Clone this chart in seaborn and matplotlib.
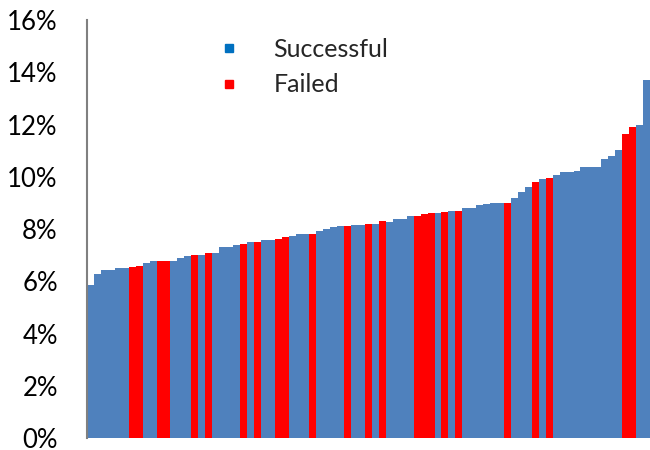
import pandas as pd
import matplotlib
matplotlib.use("Agg")
import matplotlib.pyplot as plt
import seaborn as sns
from matplotlib.lines import Line2D
from matplotlib.ticker import PercentFormatter

# bar heights (%), sorted ascending
rates = [5.87, 6.29, 6.43, 6.43, 6.50, 6.50, 6.53, 6.60, 6.69, 6.79,
         6.78, 6.78, 6.79, 6.90, 6.95, 7.01, 7.00, 7.09, 7.09, 7.30,
         7.30, 7.40, 7.43, 7.49, 7.50, 7.56, 7.56, 7.62, 7.70, 7.72,
         7.80, 7.80, 7.81, 7.92, 8.01, 8.06, 8.10, 8.11, 8.17, 8.17,
         8.19, 8.19, 8.30, 8.28, 8.38, 8.38, 8.48, 8.50, 8.57, 8.60,
         8.60, 8.65, 8.69, 8.69, 8.79, 8.80, 8.91, 8.95, 8.98, 8.99,
         8.99, 9.17, 9.40, 9.60, 9.79, 9.90, 9.96, 10.08, 10.19, 10.19,
         10.21, 10.39, 10.39, 10.39, 10.69, 10.79, 11.01, 11.62, 11.92, 12.00,
         13.70]
# S = successful, F = failed (one code per bar)
codes = ("SSSSSSFFSS" "FFSSSFSFSS" "SSFSFSSFFS" "SSFSSSSFSS"
         "FSFSSSSFFF" "SFSFSSSSSS" "FSSSFSFSSS" "SSSSSSSFFS" "S")
labels = {"S": "Successful", "F": "Failed"}
colors = {"Successful": "#4F81BD", "Failed": "#FF0000"}
legend_colors = {"Successful": "#0070C0", "Failed": "#FF0000"}
yticks = [0, 2, 4, 6, 8, 10, 12, 14, 16]

df = pd.DataFrame({"pos": range(len(rates)), "rate": rates,
                   "outcome": [labels[c] for c in codes]})

sns.set_style("white")
plt.rcParams["font.family"] = ["Lato", "DejaVu Sans"]

fig = plt.figure(figsize=(6.5, 4.5), dpi=100)
ax = fig.add_axes([87 / 650, 12 / 450, 563 / 650, 418 / 450])

sns.barplot(data=df, x="pos", y="rate", hue="outcome", palette=colors,
            saturation=1, dodge=False, width=1.0, linewidth=0,
            legend=False, ax=ax)

ax.set_xlim(-0.5, len(rates) - 0.5)
ax.set_ylim(0, 16)
ax.set_yticks(yticks)
ax.yaxis.set_major_formatter(PercentFormatter(decimals=0))
ax.set_xticks([])
ax.set_xlabel("")
ax.set_ylabel("")
ax.tick_params(axis="y", length=0, pad=21, labelsize=18.5, colors="black")

for side in ["top", "right", "bottom"]:
    ax.spines[side].set_visible(False)
ax.spines["left"].set_color("#808080")
ax.spines["left"].set_linewidth(1.5)

handles = [Line2D([], [], linestyle="none", marker="s", markersize=6,
                  markerfacecolor=legend_colors[k], markeredgecolor=legend_colors[k])
           for k in ["Successful", "Failed"]]
fig.legend(handles, ["Successful", "Failed"], loc="upper left",
           bbox_to_anchor=(216 / 650, 1 - 38 / 450), frameon=False,
           fontsize=18, handlelength=1.0, handletextpad=1.3,
           labelspacing=0.5, borderpad=0, borderaxespad=0)

fig.savefig("out.png", dpi=100)
